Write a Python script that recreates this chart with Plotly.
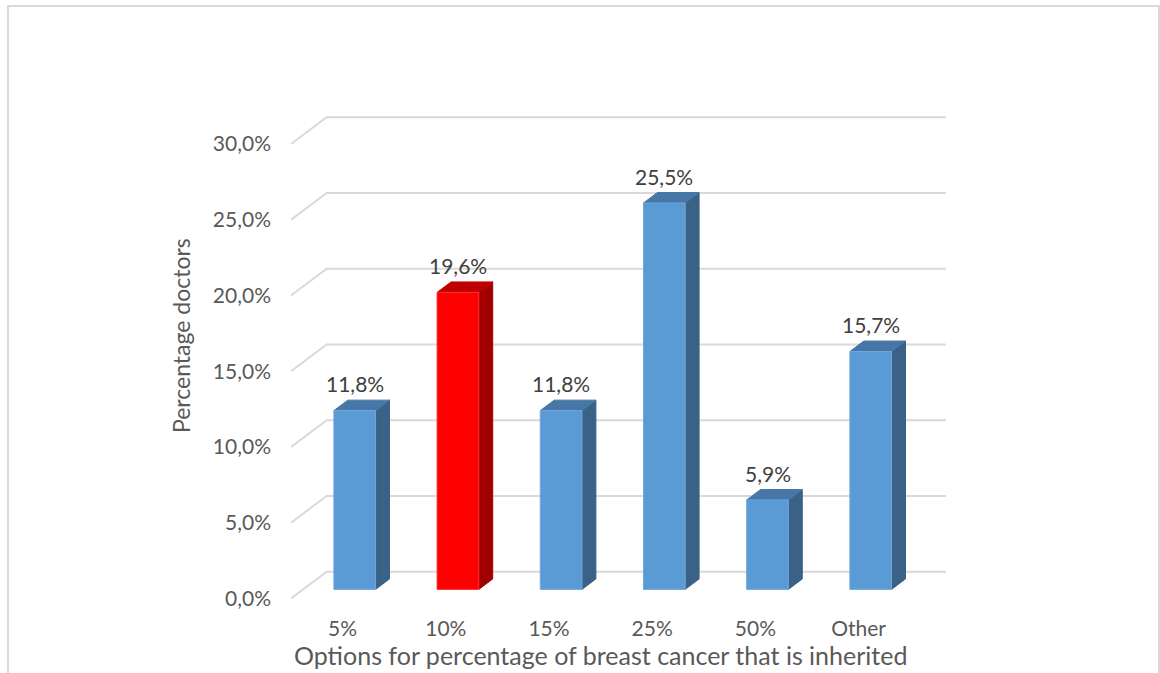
import plotly.graph_objects as go

# ---- data ----
categories = ["5%", "10%", "15%", "25%", "50%", "Other"]
values = [11.8, 19.6, 11.8, 25.5, 5.9, 15.7]
highlight = [False, True, False, False, False, False]
y_ticks = [0, 5, 10, 15, 20, 25, 30]
y_tick_labels = ["0,0%", "5,0%", "10,0%", "15,0%", "20,0%", "25,0%", "30,0%"]

x_title = "Options for percentage of breast cancer that is inherited"
y_title = "Percentage doctors"

# ---- 3D geometry (in axis units) ----
DX = 0.346    # depth shift along x (category units)
DY = 1.769    # depth shift along y (% units)
F0, F1 = 0.34, 0.73   # bar depth span (fraction of floor depth)
W = 0.404     # bar width (category units)
X_LEFT, X_RIGHT = -0.5, 5.5

FONT = "Lato"
GRID = "#d9d9d9"
blue = dict(front="#5b9bd5", side="#3a6186", top="#4677a6", edge="#6fa7dc")
red = dict(front="#ff0000", side="#a00000", top="#c00000", edge="#ff3030")

fig = go.Figure()

# gridlines: diagonal from front-left then along back wall
gx, gy = [], []
for v in y_ticks:
    gx += [X_LEFT, X_LEFT + DX, X_RIGHT + DX, None]
    gy += [v, v + DY, v + DY, None]
fig.add_trace(go.Scatter(x=gx, y=gy, mode="lines", line=dict(color=GRID, width=2),
                         hoverinfo="skip", showlegend=False, cliponaxis=False))

def poly(xs, ys, color, edge=None):
    fig.add_trace(go.Scatter(
        x=xs + [xs[0]], y=ys + [ys[0]], mode="lines", fill="toself",
        fillcolor=color, line=dict(color=edge or color, width=1),
        hoverinfo="skip", showlegend=False, cliponaxis=False))

annotations = []
for i, (v, hi) in enumerate(zip(values, highlight)):
    c = red if hi else blue
    xl = i - W / 2 + F0 * DX
    xr = i + W / 2 + F0 * DX
    ddx = (F1 - F0) * DX
    y0f = F0 * DY
    y0b = F1 * DY
    # side face
    poly([xr, xr + ddx, xr + ddx, xr], [y0f, y0b, v + y0b, v + y0f], c["side"])
    # top face
    poly([xl, xr, xr + ddx, xl + ddx], [v + y0f, v + y0f, v + y0b, v + y0b], c["top"])
    # front face
    poly([xl, xr, xr, xl], [y0f, y0f, v + y0f, v + y0f], c["front"], c["edge"])
    annotations.append(dict(
        x=i + F0 * DX, y=v + y0b, xref="x", yref="y",
        text=f"{v:.1f}%".replace(".", ","), showarrow=False,
        yanchor="bottom", yshift=2,
        font=dict(family=FONT, size=21, color="#404040")))

L, R, T, B = 291, 200, 100, 63
PW = 1160 - L - R
PH = 673 - T - B

annotations.append(dict(
    x=(600 - L) / PW, y=1 - (655 - T) / PH, xref="paper", yref="paper",
    text=x_title, showarrow=False, xanchor="center", yanchor="middle",
    font=dict(family=FONT, size=25, color="#595959")))
annotations.append(dict(
    x=(181 - L) / PW, y=1 - (336 - T) / PH, xref="paper", yref="paper",
    text=y_title, showarrow=False, textangle=-90, xanchor="center", yanchor="middle",
    font=dict(family=FONT, size=23, color="#595959")))

fig.update_layout(
    width=1160, height=673, autosize=False,
    margin=dict(l=L, r=R, t=T, b=B, pad=0),
    paper_bgcolor="white", plot_bgcolor="white",
    separators=",.",
    showlegend=False,
    annotations=annotations,
    xaxis=dict(range=[-0.5, 5.983], tickvals=list(range(len(categories))),
               ticktext=categories, showgrid=False, zeroline=False, showline=False,
               ticks="", ticklabelstandoff=4,
               tickfont=dict(family=FONT, size=21, color="#595959"), fixedrange=True),
    yaxis=dict(range=[-0.759, 32.9], tickvals=y_ticks, ticktext=y_tick_labels,
               showgrid=False, zeroline=False, showline=False, ticks="",
               ticklabelstandoff=19,
               tickfont=dict(family=FONT, size=21, color="#595959"), fixedrange=True),
    shapes=[dict(type="rect", xref="paper", yref="paper",
                 x0=(8 - L) / PW, x1=(1159 - L) / PW,
                 y0=-(700 - T - PH) / PH, y1=1 + (T - 6) / PH,
                 line=dict(color=GRID, width=2), fillcolor="rgba(0,0,0,0)", layer="below")],
)

fig.write_html("out.html")
